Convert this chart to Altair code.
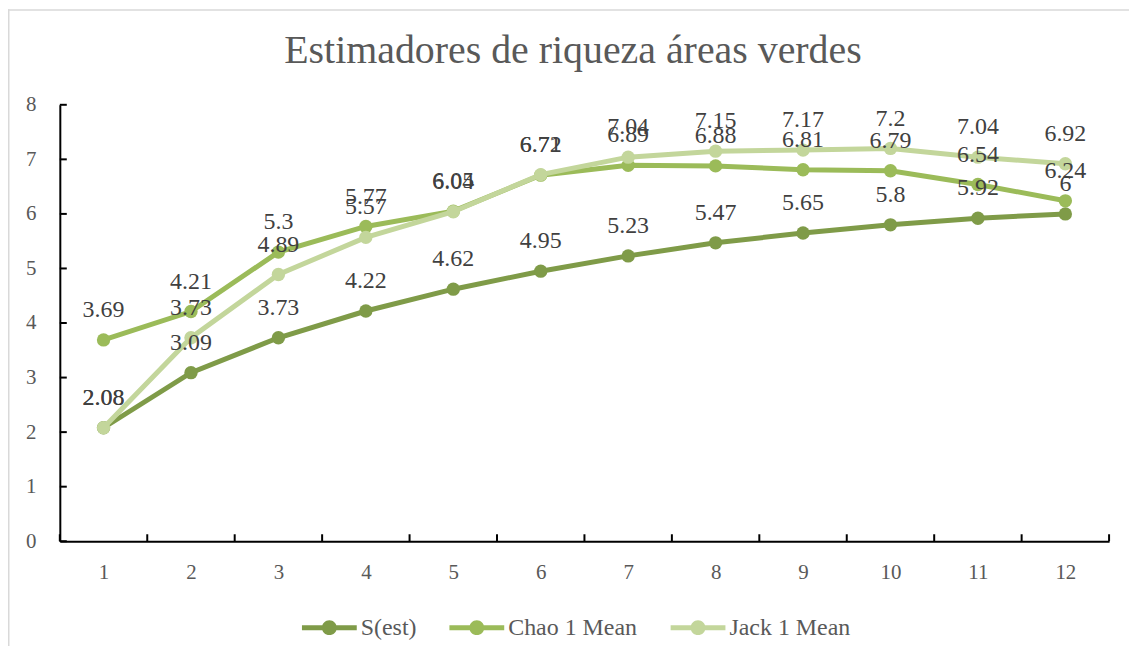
import altair as alt
import pandas as pd

muestras = list(range(1, 13))
s_est = [2.08, 3.09, 3.73, 4.22, 4.62, 4.95, 5.23, 5.47, 5.65, 5.8, 5.92, 6]
chao1 = [3.69, 4.21, 5.3, 5.77, 6.05, 6.71, 6.89, 6.88, 6.81, 6.79, 6.54, 6.24]
jack1 = [2.08, 3.73, 4.89, 5.57, 6.04, 6.72, 7.04, 7.15, 7.17, 7.2, 7.04, 6.92]
series = ["S(est)", "Chao 1 Mean", "Jack 1 Mean"]
colors = ["#7f9b48", "#9bbb59", "#c3d69b"]
x_tick_pos = [0.5 + i for i in range(13)]
y_ticks = list(range(9))
title_text = "Estimadores de riqueza áreas verdes"

FONT = "Liberation Serif"
W, H = 1053, 438

rows = []
for name, vals in zip(series, [s_est, chao1, jack1]):
    for m, v in zip(muestras, vals):
        rows.append({"muestra": m, "valor": v, "serie": name, "label": f"{v:g}"})
df = pd.DataFrame(rows)

x_axis = alt.Axis(values=muestras, format="d", ticks=False, grid=False, title=None,
                  domainColor="black", domainWidth=2, labelFont=FONT, labelFontSize=21,
                  labelColor="#595959", labelPadding=20)
y_axis = alt.Axis(values=y_ticks, ticks=False, grid=False, title=None,
                  domainColor="black", domainWidth=2, labelFont=FONT, labelFontSize=21,
                  labelColor="#595959", labelPadding=24)
x_scale = alt.Scale(domain=[0.5, 12.5], nice=False, zero=False)
y_scale = alt.Scale(domain=[0, 8], nice=False)

legend_path = ("M-1,-0.09H1V0.09H-1Z "
               "M-0.27,0A0.27,0.27 0 1,1 0.27,0A0.27,0.27 0 1,1 -0.27,0Z")
color_enc = alt.Color("serie:N", scale=alt.Scale(domain=series, range=colors),
                      legend=alt.Legend(title=None, orient="none", direction="horizontal",
                                        legendX=243, legendY=497,
                                        symbolType=legend_path, symbolSize=3025,
                                        symbolStrokeWidth=0, labelFont=FONT,
                                        labelFontSize=24, labelColor="#595959",
                                        labelOffset=4, columnPadding=33))

base = alt.Chart(df)
X = alt.X("muestra:Q", scale=x_scale, axis=x_axis)
Y = alt.Y("valor:Q", scale=y_scale, axis=y_axis)

layers = []
for s, c in zip(series, colors):
    sub = base.transform_filter(alt.datum.serie == s)
    layers.append(sub.mark_line(strokeWidth=5, color=c).encode(x=X, y=Y))
    layers.append(sub.mark_circle(size=180, opacity=1).encode(x=X, y=Y, color=color_enc))

labels = base.mark_text(dy=-23, baseline="alphabetic", fontSize=24, font=FONT,
                        color="#404040").encode(x=X, y=Y, text="label:N")

xt = alt.Chart(pd.DataFrame({"t": x_tick_pos})).mark_rule(color="black", strokeWidth=2).encode(
    x=alt.X("t:Q", scale=x_scale, axis=x_axis), y=alt.value(H), y2=alt.value(H - 7))
yt = alt.Chart(pd.DataFrame({"t": y_ticks})).mark_rule(color="black", strokeWidth=2).encode(
    y=alt.Y("t:Q", scale=y_scale, axis=y_axis), x=alt.value(0), x2=alt.value(7))

frame_df = pd.DataFrame({"a": [0]})
frame_left = alt.Chart(frame_df).mark_rule(color="#d9d9d9", strokeWidth=1.5).encode(
    x=alt.value(-51.25), y=alt.value(-96), y2=alt.value(H + 120))
frame_top = alt.Chart(frame_df).mark_rule(color="#d9d9d9", strokeWidth=1.5).encode(
    x=alt.value(-52), x2=alt.value(W + 40), y=alt.value(-95.25))

title = alt.Chart(pd.DataFrame({"t": [title_text]})).mark_text(
    font=FONT, fontSize=40, color="#595959", baseline="alphabetic", align="center"
).encode(text="t:N", x=alt.value(515), y=alt.value(-42))

chart = alt.layer(frame_left, frame_top, xt, yt, *layers, labels, title).properties(
    width=W, height=H,
    padding={"left": 52, "top": 96, "right": 20, "bottom": 104},
    autosize=alt.AutoSizeParams(type="none"),
).configure_view(stroke=None)

chart.save("out.html", embed_options={"renderer": "svg", "actions": False})
